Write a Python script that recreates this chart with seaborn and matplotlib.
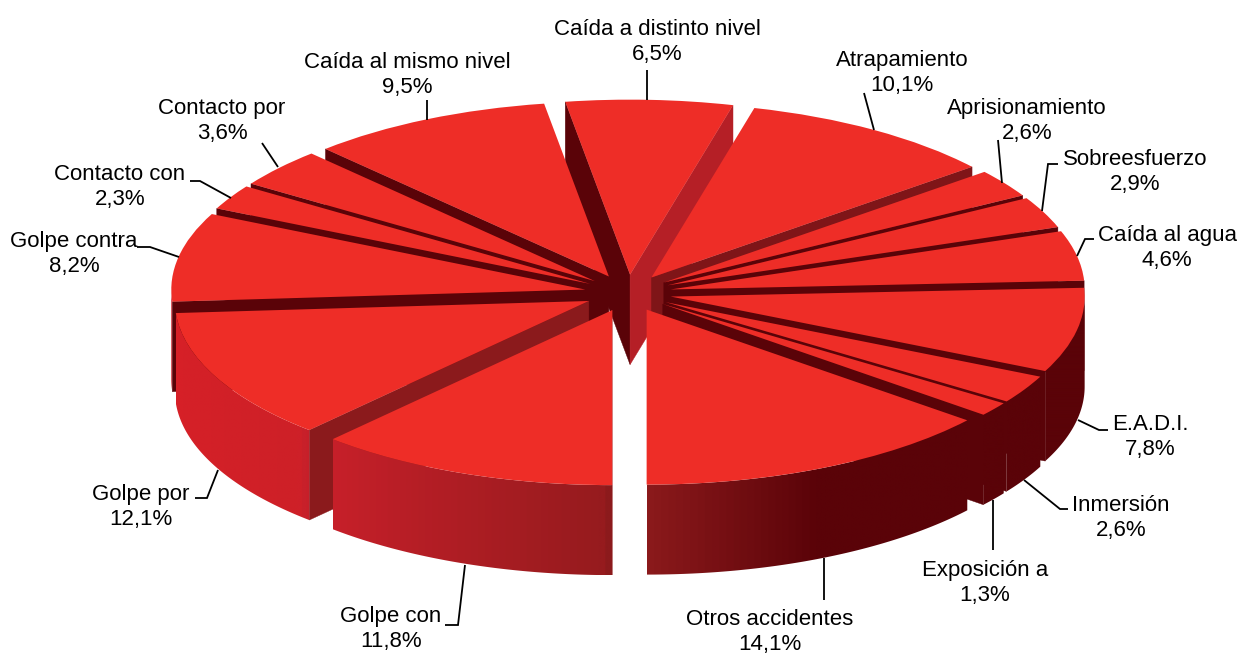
import numpy as np
import matplotlib
matplotlib.use("Agg")
import matplotlib.pyplot as plt
from matplotlib.colors import to_rgb
from matplotlib.patches import Polygon
import seaborn as sns

categories = ["Caída a distinto nivel", "Atrapamiento", "Aprisionamiento", "Sobreesfuerzo",
              "Caída al agua", "E.A.D.I.", "Inmersión", "Exposición a", "Otros accidentes",
              "Golpe con", "Golpe por", "Golpe contra", "Contacto con", "Contacto por",
              "Caída al mismo nivel"]
values = [6.5, 10.1, 2.6, 2.9, 4.6, 7.8, 2.6, 1.3, 14.1, 11.8, 12.1, 8.2, 2.3, 3.6, 9.5]

# Layout (pixels of the 1239x654 canvas)
W, H = 1239, 654
CX, CY, RX, RY, DEPTH_PX = 628, 293, 414, 175, 90
START_CW = -9.0
EXPLODE = 0.105
DEPTH = DEPTH_PX / RY
TOP = "#EE2D27"
DARK = "#5A0308"

label_xy = [(657, 42), (902, 73), (1027, 121), (1135, 172), (1167, 248), (1150, 437),
            (1121, 518), (985, 583), (770, 632), (391, 629), (141, 507), (74, 254),
            (120, 187), (222, 121), (407, 75)]
leaders = [
    [(647, 100), (647, 70)],
    [(874, 130), (864, 93)],
    [(1002, 183), (998, 140)],
    [(1042, 211), (1048, 164), (1058, 164)],
    [(1077, 256), (1085, 239), (1094, 239)],
    [(1078, 420), (1099, 430), (1108, 430)],
    [(1024, 480), (1060, 509), (1068, 509)],
    [(993, 500), (993, 550)],
    [(824, 558), (824, 600)],
    [(465, 565), (458, 625), (445, 625)],
    [(218, 470), (207, 498), (195, 498)],
    [(179, 257), (150, 247), (137, 247)],
    [(231, 198), (200, 181), (190, 181)],
    [(278, 167), (262, 143)],
    [(427, 120), (427, 100)],
]

sns.set_theme(style="white")
plt.rcParams["font.family"] = ["Liberation Sans", "DejaVu Sans"]

fig = plt.figure(figsize=(W / 100, H / 100), dpi=100, facecolor="white")
ax = fig.add_axes([0, 0, 1, 1])


def px(x, y):
    return (x - CX) / RX, (CY - y) / RY


explode = [EXPLODE] * len(values)
wedges, _ = ax.pie(values, explode=explode, startangle=90 - START_CW, counterclock=False,
                   colors=[TOP] * len(values), radius=1.0, center=(0, 0),
                   wedgeprops=dict(linewidth=0))

# Rim shading as a function of the clockwise angle from the top
seg1 = sns.blend_palette([DARK, DARK], 155)
seg2 = sns.blend_palette([DARK, "#8C1A1C"], 26)
seg3 = sns.blend_palette(["#961B1E", "#C8202A"], 43)
seg4 = sns.blend_palette(["#CE2028", "#D82027"], 44)
seg5 = sns.blend_palette([DARK, DARK], 93)
rim_palette = np.array([to_rgb(c) for c in list(seg1) + list(seg2) + list(seg3) + list(seg4) + list(seg5)])


def end_face_colour(theta):
    if theta < 30:
        return "#B51F26"
    if theta < 55:
        return "#7F1518"
    return DARK


def start_face_colour(theta):
    return "#8B1A1C" if theta < 240 else DARK


def point(theta):
    t = np.deg2rad(theta)
    return np.array([np.sin(t), np.cos(t)])


def face(apex, theta, colour, z):
    rim = apex + point(theta)
    down = np.array([0, -DEPTH])
    ax.add_patch(Polygon([apex, rim, rim + down, apex + down], closed=True,
                         facecolor=colour, edgecolor=colour, linewidth=0.3, zorder=z))


def rim_band(apex, lo, hi, z):
    """Outer wall of one slice: a horizontal shade strip clipped to the wall outline."""
    arc = np.linspace(lo, hi, 80)
    upper = np.array([apex + point(a) for a in arc])
    lower = upper - [0, DEPTH]
    outline = np.vstack([upper, lower[::-1]])
    x0, x1 = outline[:, 0].min(), outline[:, 0].max()
    y0, y1 = outline[:, 1].min(), outline[:, 1].max()
    xs = np.linspace(x0, x1, 400)
    thetas = 180 - np.rad2deg(np.arcsin(np.clip(xs - apex[0], -1, 1)))
    idx = np.clip(thetas, lo, hi)
    rgb = rim_palette[np.clip(idx.astype(int), 0, len(rim_palette) - 1)][None, :, :]
    clip = Polygon(outline, closed=True, transform=ax.transData, facecolor="none", linewidth=0)
    im = ax.imshow(rgb, extent=(x0, x1, y0, y1), aspect="auto", zorder=z,
                   interpolation="bilinear", origin="lower")
    im.set_clip_path(clip)


fracs = np.array(values) / np.sum(values) * 360
edges = START_CW + np.concatenate([[0], np.cumsum(fracs)])
mids = (edges[:-1] + edges[1:]) / 2
order = np.argsort(-np.cos(np.deg2rad(mids)))

for rank, i in enumerate(order):
    a1, a2, m = edges[i], edges[i + 1], mids[i]
    apex = EXPLODE * point(m)
    z = 10 + rank * 3
    if np.sin(np.deg2rad(a1)) < 0:
        face(apex, a1, start_face_colour(a1 % 360), z)
    if np.sin(np.deg2rad(a2)) > 0:
        face(apex, a2, end_face_colour(a2 % 360), z)
    lo, hi = max(a1, 90), min(a2, 270)
    if hi > lo:
        rim_band(apex, lo, hi, z + 1)
    wedges[i].set_zorder(z + 2)

for name, val, (lx, ly), path in zip(categories, values, label_xy, leaders):
    xs, ys = zip(*[px(*p) for p in path])
    ax.plot(xs, ys, color="black", lw=1.3, zorder=100, solid_capstyle="butt",
            solid_joinstyle="miter")
    x, y = px(lx, ly)
    ax.text(x, y, f"{name}\n{str(val).replace('.', ',')}%", ha="center", va="center",
            fontsize=16, color="black", linespacing=1.3, zorder=101)

ax.set_aspect("auto")
ax.set_xlim(px(0, 0)[0], px(W, 0)[0])
ax.set_ylim(px(0, H)[1], px(0, 0)[1])
ax.axis("off")

fig.savefig("out.png", dpi=100, facecolor="white")
